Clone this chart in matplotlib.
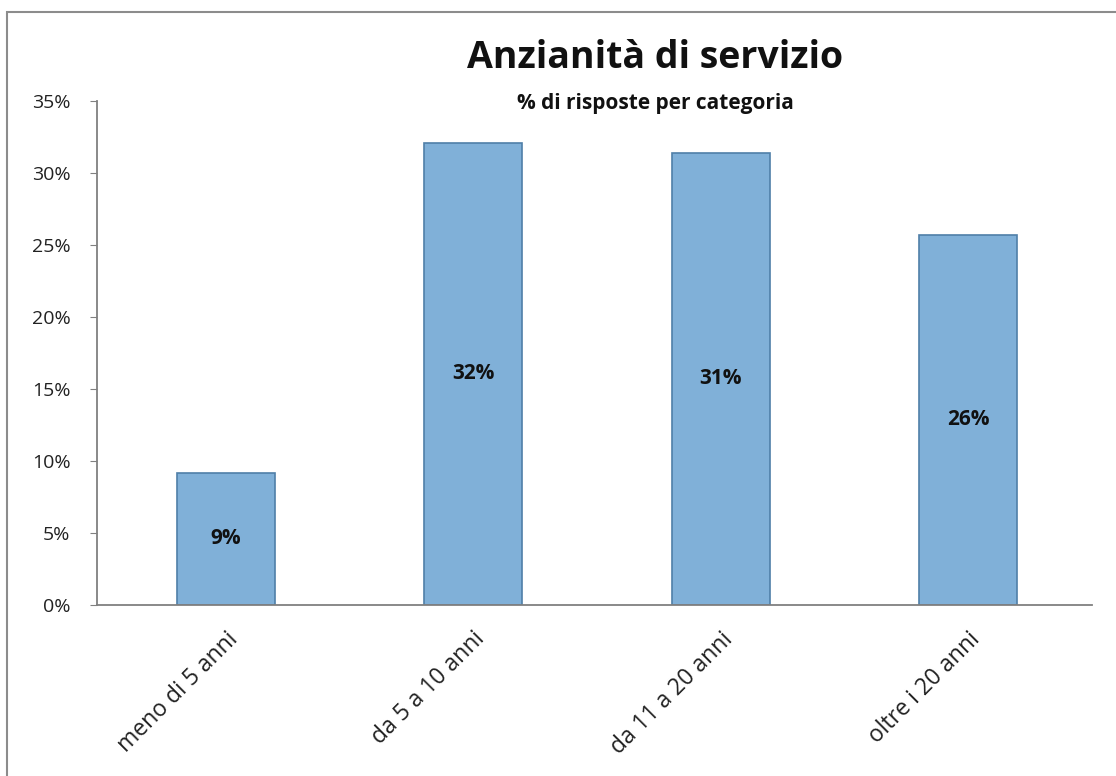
import matplotlib
matplotlib.use("Agg")
import matplotlib.pyplot as plt
from matplotlib.patches import Rectangle
from matplotlib.ticker import FuncFormatter
from matplotlib.transforms import offset_copy

categories = ["meno di 5 anni", "da 5 a 10 anni", "da 11 a 20 anni", "oltre i 20 anni"]
values = [9.2, 32.1, 31.4, 25.7]
labels = ["9%", "32%", "31%", "26%"]
yticks = [0, 5, 10, 15, 20, 25, 30, 35]

plt.rcParams['font.family'] = ['Open Sans', 'DejaVu Sans']

fig = plt.figure(figsize=(11.16, 7.76), dpi=100)
fig.patch.set_facecolor("white")

# outer chart frame
fig.patches.append(Rectangle((0.006, -0.01), 1.0, 0.995, transform=fig.transFigure,
                             fill=False, edgecolor="#8c8c8c", linewidth=1.5))

ax = fig.add_axes([0.0869, 0.2204, 0.8916, 0.6494])
x = range(len(categories))
bars = ax.bar(x, values, width=0.395, color="#80b0d8", edgecolor="#4f7fa8", linewidth=1.2)

for b, lab in zip(bars, labels):
    ax.text(b.get_x() + b.get_width() / 2, b.get_height() / 2, lab,
            ha="center", va="center", fontsize=15, fontweight="bold", color="#111111")

ax.set_xlim(-0.52, len(categories) - 0.5)
ax.set_ylim(0, 35)
ax.set_yticks(yticks)
ax.yaxis.set_major_formatter(FuncFormatter(lambda v, p: f"{int(v)}%"))
ax.set_xticks(list(x))
ax.set_xticklabels(categories, rotation=45, ha="right", rotation_mode="anchor", fontsize=16.5)
for t in ax.get_xticklabels():
    t.set_transform(offset_copy(t.get_transform(), fig=fig, x=6, y=0, units="dots"))
ax.tick_params(axis="y", labelsize=14, length=5, color="#808080", pad=14, labelcolor="#222222")
ax.tick_params(axis="x", length=0, pad=16, labelcolor="#222222")

for s in ["top", "right"]:
    ax.spines[s].set_visible(False)
ax.spines["left"].set_color("#808080")
ax.spines["bottom"].set_color("#808080")
ax.spines["left"].set_linewidth(1.3)
ax.spines["bottom"].set_linewidth(1.3)

fig.text(0.587, 0.925, "Anzianità di servizio", ha="center", va="center",
         fontsize=27, fontweight="bold", color="#111111")
fig.text(0.587, 0.866, "% di risposte per categoria", ha="center", va="center",
         fontsize=15, fontweight="bold", color="#111111")

fig.savefig("out.png", dpi=100)
